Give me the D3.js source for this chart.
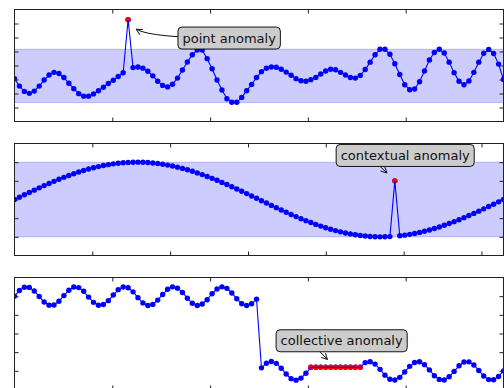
<!DOCTYPE html>
<html lang="en">
<head>
<meta charset="UTF-8">
<script src="https://cdn.jsdelivr.net/npm/d3@7"></script>
<title>Anomaly types</title>
<style>
  body { margin: 0; background: white; }
  svg { display: block; font-family: "DejaVu Sans", sans-serif; }
</style>
</head>
<body>
<script>
// ---- panel 1: point anomaly (x from 0 to 10) ----
const pointValues = [
  -0.95, -1.47, -1.85, -1.99, -1.83, -1.47, -1.04, -0.68, -0.49, -0.57,
  -0.86, -1.27, -1.66, -2.01, -2.19, -2.19, -2.03, -1.80, -1.55, -1.29,
  -1.05, -0.79, -0.52, 3.27, -0.15, -0.11, -0.19, -0.41, -0.74, -1.12,
  -1.42, -1.53, -1.34, -0.90, -0.32, 0.25, 0.77, 1.10, 1.10, 0.49,
  -0.23, -1.04, -1.75, -2.37, -2.63, -2.63, -2.28, -1.80, -1.36, -0.86,
  -0.44, -0.20, -0.11, -0.13, -0.27, -0.47, -0.70, -0.94, -1.09, -1.13,
  -1.01, -0.85, -0.61, -0.39, -0.27, -0.30, -0.49, -0.68, -0.86, -0.90,
  -0.71, -0.29, 0.24, 0.77, 1.16, 1.16, 0.80, 0.13, -0.64, -1.37,
  -1.73, -1.68, -1.16, -0.39, 0.39, 0.93, 1.16, 0.89, 0.24, -0.51,
  -1.13, -1.37, -1.11, -0.49, 0.24, 0.87, 1.15, 0.86, 0.10, -1.00
];
const pointAnomaly = [23];
const pointBand = [-2.65, 1.16];

// ---- panel 2: contextual anomaly (x from 0 to 2*pi) ----
const contextValues = [
  0, 0.063, 0.127, 0.189, 0.251, 0.312, 0.372, 0.430, 0.486, 0.541,
  0.593, 0.643, 0.690, 0.735, 0.776, 0.815, 0.850, 0.881, 0.910, 0.934,
  0.955, 0.972, 0.985, 0.994, 0.999, 1.000, 0.997, 0.990, 0.979, 0.964,
  0.945, 0.922, 0.896, 0.866, 0.833, 0.796, 0.756, 0.713, 0.667, 0.618,
  0.567, 0.514, 0.458, 0.401, 0.342, 0.282, 0.220, 0.158, 0.095, 0.032,
  -0.032, -0.095, -0.158, -0.220, -0.282, -0.342, -0.401, -0.458, -0.514, -0.567,
  -0.618, -0.667, -0.713, -0.756, -0.796, -0.833, -0.866, -0.896, -0.922, -0.945,
  -0.964, -0.979, -0.990, -0.997, -1.000, -0.999, -0.994, 0.500, -0.972, -0.955,
  -0.934, -0.910, -0.881, -0.850, -0.815, -0.776, -0.735, -0.690, -0.643, -0.593,
  -0.541, -0.486, -0.430, -0.372, -0.312, -0.251, -0.189, -0.127, -0.063, 0
];
const contextAnomaly = [77];
const contextBand = [-1, 1];

// ---- panel 3: collective anomaly (x from 0 to 10) ----
const collectiveValues = [
  4.00, 4.30, 4.48, 4.47, 4.28, 3.98, 3.69, 3.52, 3.53, 3.73,
  4.03, 4.32, 4.49, 4.46, 4.26, 3.95, 3.67, 3.51, 3.55, 3.76,
  4.06, 4.35, 4.49, 4.45, 4.23, 3.92, 3.64, 3.50, 3.56, 3.79,
  4.09, 4.37, 4.50, 4.43, 4.20, 3.89, 3.62, 3.50, 3.58, 3.81,
  4.13, 4.39, 4.50, 4.42, 4.17, 3.86, 3.60, 3.50, 3.59, 3.84,
  0.16, 0.41, 0.50, 0.40, 0.14, -0.17, -0.42, -0.50, -0.39, -0.13,
  0.19, 0.19, 0.19, 0.19, 0.19, 0.19, 0.19, 0.19, 0.19, 0.19,
  0.19, 0.44, 0.49, 0.36, 0.08, -0.23, -0.45, -0.49, -0.35, -0.06,
  0.24, 0.45, 0.49, 0.33, 0.05, -0.26, -0.46, -0.49, -0.32, -0.03,
  0.27, 0.47, 0.48, 0.31, 0.02, -0.28, -0.47, -0.48, -0.30, 0.00
];
const collectiveAnomaly = [60, 61, 62, 63, 64, 65, 66, 67, 68, 69, 70];

// tick positions (no labels in the original)
const xTicksTen = [2, 4, 6, 8];
const xTicksPi = [1, 2, 3, 4, 5, 6];
const yTicksPoint = [-3, -2, -1, 0, 1, 2, 3];
const yTicksContext = [-1, -0.5, 0, 0.5, 1];
const yTicksCollective = [0, 1, 2, 3, 4];

// annotation labels, box centre / arrow in data units
const notes = [
  { panel: 0, label: "point anomaly", at: [4.39, 1.96], from: [4.39, 1.96], bend: [2.80, 1.96], to: [2.49, 2.59] },
  { panel: 1, label: "contextual anomaly", at: [5.02, 1.18], from: [4.67, 0.94], to: [4.786, 0.71] },
  { panel: 2, label: "collective anomaly", at: [6.69, 1.61], from: [6.24, 1.035], to: [6.40, 0.607] }
];

const panels = [
  { values: pointValues, red: pointAnomaly, band: pointBand, xMax: 10, yDomain: [-4, 4], xTicks: xTicksTen, yTicks: yTicksPoint },
  { values: contextValues, red: contextAnomaly, band: contextBand, xMax: 2 * Math.PI, yDomain: [-1.5, 1.5], xTicks: xTicksPi, yTicks: yTicksContext },
  { values: collectiveValues, red: collectiveAnomaly, band: null, xMax: 10, yDomain: [-1, 5], xTicks: xTicksTen, yTicks: yTicksCollective, redLine: true }
];

const W = 504, H = 388;
const left = 14.5, right = 503.5;
const panelTops = [9.5, 143.5, 277.5];
const panelH = 112;
const tickLen = 4;
const dotR = 2.7;

const svg = d3.select("body").append("svg")
  .attr("width", W)
  .attr("height", H);

const scales = [];

panels.forEach((p, k) => {
  const top = panelTops[k];
  const x = d3.scaleLinear().domain([0, p.xMax]).range([left, right]);
  const y = d3.scaleLinear().domain(p.yDomain).range([top + panelH, top]);
  scales.push({ x, y });

  const g = svg.append("g");
  svg.append("clipPath").attr("id", "clip" + k)
    .append("rect")
    .attr("x", left).attr("y", top)
    .attr("width", right - left).attr("height", panelH);
  const plot = g.append("g").attr("clip-path", `url(#clip${k})`);

  // normal range band
  if (p.band) {
    plot.append("rect")
      .attr("x", left)
      .attr("width", right - left)
      .attr("y", y(p.band[1]))
      .attr("height", y(p.band[0]) - y(p.band[1]))
      .attr("fill", "#ccccff")
      .attr("stroke", "rgba(0,0,255,0.2)")
      .attr("stroke-width", 1);
  }

  const n = p.values.length;
  const pts = p.values.map((v, i) => [i * p.xMax / (n - 1), v]);
  const redPts = p.red.map(i => pts[i]);
  const line = d3.line().x(d => x(d[0])).y(d => y(d[1]));

  plot.selectAll("circle.normal")
    .data(pts)
    .join("circle")
    .attr("class", "normal")
    .attr("cx", d => x(d[0]))
    .attr("cy", d => y(d[1]))
    .attr("r", dotR)
    .attr("fill", "#0000ff");

  if (p.redLine) {
    plot.append("path")
      .attr("d", line(redPts))
      .attr("fill", "none")
      .attr("stroke", "#ff0000")
      .attr("stroke-width", 1.2);
  }

  plot.selectAll("circle.anom")
    .data(redPts)
    .join("circle")
    .attr("class", "anom")
    .attr("cx", d => x(d[0]))
    .attr("cy", d => y(d[1]))
    .attr("r", dotR)
    .attr("fill", "#ff0000");

  plot.append("path")
    .attr("d", line(pts))
    .attr("fill", "none")
    .attr("stroke", "#0000ff")
    .attr("stroke-width", 1.1);

  // inward ticks on all four sides, no labels
  const axes = [
    [d3.axisBottom(x).tickValues(p.xTicks), `translate(0,${top + panelH})`],
    [d3.axisTop(x).tickValues(p.xTicks), `translate(0,${top})`],
    [d3.axisLeft(y).tickValues(p.yTicks), `translate(${left},0)`],
    [d3.axisRight(y).tickValues(p.yTicks), `translate(${right},0)`]
  ];
  axes.forEach(([ax, tr]) => {
    const a = g.append("g").attr("transform", tr)
      .call(ax.tickSizeInner(-tickLen).tickSizeOuter(0).tickFormat(""));
    a.select(".domain").remove();
    a.selectAll("line").attr("stroke", "#222");
  });

  // frame
  g.append("rect")
    .attr("x", left).attr("y", top)
    .attr("width", right - left).attr("height", panelH)
    .attr("fill", "none")
    .attr("stroke", "#222")
    .attr("stroke-width", 1);
});

// annotations
function arrowHead(tip, from) {
  const ang = Math.atan2(tip[1] - from[1], tip[0] - from[0]);
  const len = 6, half = 3;
  const bx = tip[0] - len * Math.cos(ang), by = tip[1] - len * Math.sin(ang);
  const px = -Math.sin(ang) * half, py = Math.cos(ang) * half;
  return `M${bx + px},${by + py}L${tip[0]},${tip[1]}L${bx - px},${by - py}`;
}

notes.forEach(nt => {
  const { x, y } = scales[nt.panel];
  const g = svg.append("g");
  const s = [x(nt.from[0]), y(nt.from[1])];
  const e = [x(nt.to[0]), y(nt.to[1])];
  let d, dirFrom;
  if (nt.bend) {
    const c = [x(nt.bend[0]), y(nt.bend[1])];
    d = `M${s[0]},${s[1]}Q${c[0]},${c[1]} ${e[0]},${e[1]}`;
    dirFrom = c;
  } else {
    d = `M${s[0]},${s[1]}L${e[0]},${e[1]}`;
    dirFrom = s;
  }
  g.append("path").attr("d", d)
    .attr("fill", "none").attr("stroke", "#111").attr("stroke-width", 1);
  g.append("path").attr("d", arrowHead(e, dirFrom))
    .attr("fill", "none").attr("stroke", "#111").attr("stroke-width", 1);

  const cx = x(nt.at[0]), cy = y(nt.at[1]);
  const box = g.append("rect");
  const txt = g.append("text")
    .attr("x", cx)
    .attr("y", cy)
    .attr("text-anchor", "middle")
    .attr("dominant-baseline", "central")
    .attr("font-size", 13)
    .attr("fill", "#111")
    .text(nt.label);
  const w = txt.node().getComputedTextLength() + 9;
  const h = 22;
  box.attr("x", cx - w / 2).attr("y", cy - h / 2)
    .attr("width", w).attr("height", h)
    .attr("rx", 4).attr("ry", 4)
    .attr("fill", "#cccccc")
    .attr("stroke", "#111")
    .attr("stroke-width", 1);
});
</script>
</body>
</html>
